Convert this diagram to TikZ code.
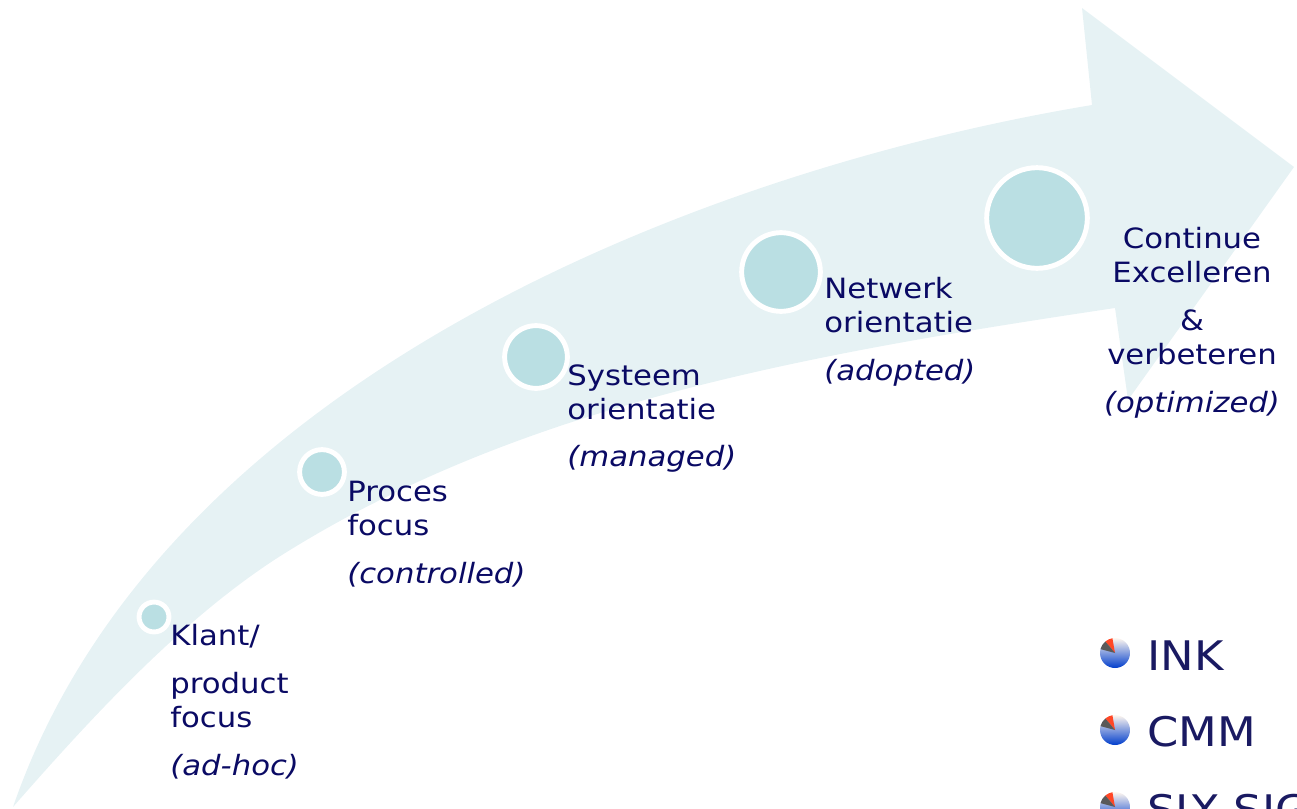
\documentclass[tikz,border=0pt]{standalone}
\usepackage{fontspec}
\setmainfont{DejaVu Sans}[FakeStretch=1.1]

\definecolor{bandcol}{RGB}{230,242,244}
\definecolor{dotcol}{RGB}{186,223,227}
\definecolor{navy}{RGB}{10,10,100}
\definecolor{modelcol}{RGB}{26,26,98}

\tikzset{
  dot/.style={circle, draw=white, line width=2.8pt, fill=dotcol, inner sep=0pt},
  stage/.style={anchor=north west, inner sep=0pt, align=left, text=navy,
    font=\fontsize{15.9}{19.3}\selectfont},
  model/.style={anchor=base west, inner sep=0pt, text=modelcol,
    font=\fontsize{23.2}{27}\selectfont},
}

% little 3d pie in front of each model
\newcommand{\pieicon}[1]{%
  \shade[top color=orange!6, middle color=blue!40!cyan!60, bottom color=blue!70!cyan!80!black]
    (#1) circle (15);
  \fill[red!70!orange!85!white] (#1) -- ++(100:15) arc (100:130:15) -- cycle;
  \fill[black!65] (#1) -- ++(130:15) arc (130:165:15) -- cycle;
}

\begin{document}
\begin{tikzpicture}[x=0.02cm, y=0.02cm]
  \clip (0,0) rectangle (1297,-808);

  % the curved arrow
  \fill[bandcol]
    (13,-807) .. controls (160,-380) and (700,-170) .. (1092,-105)
    -- (1082,-8) -- (1294,-167) -- (1128,-400) -- (1115,-308)
    .. controls (815,-353) and (530,-402) .. (290,-550)
    .. controls (190,-611) and (97,-711) .. (13,-807)
    -- cycle;

  % stages
  \node[dot, minimum size=17pt]   (c1) at (154,-617) {};
  \node[dot, minimum size=25.5pt] (c2) at (322,-472) {};
  \node[dot, minimum size=35.7pt] (c3) at (536,-357) {};
  \node[dot, minimum size=44.8pt] (c4) at (781,-272) {};
  \node[dot, minimum size=57.3pt] (c5) at (1037,-218) {};

  \node[stage] (t1) at (170,-624)
    {Klant/\\[8pt]product\\focus\\[8pt]\itshape(ad-hoc)};
  \node[stage] (t2) at (347,-481)
    {Proces\\focus\\[8pt]\itshape(controlled)};
  \node[stage] (t3) at (567,-364)
    {Systeem\\orientatie\\[8pt]\itshape(managed)};
  \node[stage] (t4) at (824,-277)
    {Netwerk\\orientatie\\[8pt]\itshape(adopted)};
  \node[stage, anchor=north, align=center] (t5) at (1192,-227)
    {Continue\\Excelleren\\[8pt]\&\\verbeteren\\[8pt]\itshape(optimized)};

  % models
  \pieicon{1115,-653}
  \pieicon{1115,-730}
  \pieicon{1115,-807}
  \node[model] (ink) at (1147,-670) {INK};
  \node[model] (cmm) at (1147,-746) {CMM};
  \node[model] (six) at (1147,-824) {SIX SIGMA};
\end{tikzpicture}
\end{document}
